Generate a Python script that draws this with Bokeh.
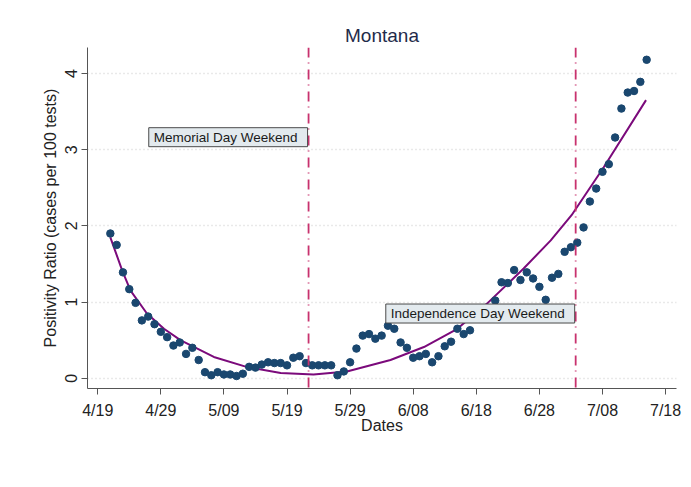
import numpy as np
import pandas as pd
from bokeh.plotting import figure
from bokeh.models import Range1d, FixedTicker, Span, Label
from bokeh.embed import file_html
from bokeh.resources import INLINE

# ---------------- data ----------------
first_date = "2020-04-21"
positivity = [
    1.90, 1.75, 1.39, 1.17, 0.99, 0.76, 0.81, 0.71, 0.61, 0.54,          # Apr 21-30
    0.43, 0.47, 0.32, 0.40, 0.24, 0.08, 0.04, 0.08, 0.05, 0.05,          # May 1-10
    0.03, 0.06, 0.15, 0.14, 0.18, 0.21, 0.20, 0.20, 0.17, 0.27,          # May 11-20
    0.29, 0.20, 0.17, 0.17, 0.17, 0.17, 0.04, 0.09, 0.21, 0.39, 0.56,    # May 21-31
    0.58, 0.52, 0.56, 0.69, 0.65, 0.47, 0.40, 0.27, 0.29, 0.32,          # Jun 1-10
    0.21, 0.29, 0.42, 0.48, 0.65, 0.58, 0.63, 0.80, 0.86, 0.92,          # Jun 11-20
    1.02, 1.26, 1.25, 1.42, 1.29, 1.39, 1.31, 1.20, 1.03, 1.32,          # Jun 21-30
    1.37, 1.66, 1.72, 1.78, 1.98, 2.32, 2.49, 2.71, 2.81, 3.16,          # Jul 1-10
    3.54, 3.75, 3.77, 3.89, 4.18,                                        # Jul 11-15
]
dates = pd.date_range(first_date, periods=len(positivity), freq="D")

# fitted trend curve (days after 4/19, value)
trend_day = [2.0, 3.9, 5.2, 7.8, 10.5, 13.1, 18.4, 23.7, 29.0, 34.2, 39.5, 46.4,
             51.7, 57.0, 61.7, 67.5, 71.8, 75.1, 80.2, 86.9]
trend_val = [1.85, 1.41, 1.15, 0.85, 0.65, 0.50, 0.28, 0.146, 0.07, 0.05, 0.09, 0.24,
             0.41, 0.65, 0.98, 1.44, 1.81, 2.14, 2.77, 3.65]

tick_dates = ["2020-04-19", "2020-04-29", "2020-05-09", "2020-05-19", "2020-05-29",
              "2020-06-08", "2020-06-18", "2020-06-28", "2020-07-08", "2020-07-18"]
tick_labels = ["4/19", "4/29", "5/09", "5/19", "5/29", "6/08", "6/18", "6/28", "7/08", "7/18"]
y_ticks = [0, 1, 2, 3, 4]

event_dates = ["2020-05-22 10:00", "2020-07-03 18:00"]
event_labels = ["Memorial Day Weekend", "Independence Day Weekend"]
event_label_y = [3.164, 0.85]

# ---------------- helpers ----------------
def ms(ts):
    return pd.Timestamp(ts).value / 1e6

day_ms = 86400000.0
origin = ms("2020-04-19")
trend_dates = pd.to_datetime([origin + d * day_ms for d in trend_day], unit="ms")

p = figure(width=683, height=479, x_axis_type="datetime",
           output_backend="svg", toolbar_location=None,
           min_border_left=87, min_border_right=7, min_border_top=47, min_border_bottom=91,
           x_range=Range1d(origin - 1.62 * day_ms, origin + 91.73 * day_ms),
           y_range=Range1d(-0.134, 4.341))
p.outline_line_color = None
p.background_fill_color = "white"

p.title.text = "Montana"
p.title.align = "center"
p.title.text_font = "Liberation Sans"
p.title.text_font_size = "19px"
p.title.text_font_style = "normal"
p.title.text_color = "#1f2b4a"
p.title.standoff = 4

p.xgrid.visible = False
p.ygrid.grid_line_color = "#d2d2d2"
p.ygrid.grid_line_dash = "1 3"
p.ygrid.grid_line_width = 1.5

tick_ms = [ms(d) for d in tick_dates]
p.xaxis.ticker = FixedTicker(ticks=tick_ms)
p.xaxis.major_label_overrides = {tv: lab for tv, lab in zip(tick_ms, tick_labels)}
p.yaxis.ticker = FixedTicker(ticks=y_ticks)
p.yaxis.major_label_orientation = "vertical"

for ax in (p.xaxis[0], p.yaxis[0]):
    ax.axis_line_color = "#555555"
    ax.major_tick_line_color = "#555555"
    ax.minor_tick_line_color = None
    ax.major_tick_in = 0
    ax.major_tick_out = 6
    ax.major_label_text_font = "Liberation Sans"
    ax.major_label_text_font_size = "16px"
    ax.major_label_text_color = "#222222"
    ax.axis_label_text_font = "Liberation Sans"
    ax.axis_label_text_font_size = "16px"
    ax.axis_label_text_font_style = "normal"
    ax.axis_label_text_color = "#222222"

p.xaxis.axis_label = "Dates"
p.xaxis.major_label_standoff = 7
p.xaxis.axis_label_standoff = -5
p.yaxis.axis_label = "Positivity Ratio (cases per 100 tests)"
p.yaxis.major_label_standoff = 4
p.yaxis.axis_label_standoff = 4

p.line(trend_dates, trend_val, line_color="#7b0a7b", line_width=2, line_join="round")

p.scatter(dates, positivity, size=7.5, fill_color="#1a476f", line_color="#1a476f")

for d in event_dates:
    p.add_layout(Span(location=ms(d), dimension="height", line_color="#c8326e",
                      line_width=1.8, line_dash="10 5 1 6"))

for d, txt, yv in zip(event_dates, event_labels, event_label_y):
    p.add_layout(Label(x=ms(d), y=yv, text=txt, text_align="right", text_baseline="middle",
                       text_font="Liberation Sans", text_font_size="13.5px",
                       text_color="#1a1a1a", x_offset=-1,
                       background_fill_color="#e3eaee", background_fill_alpha=1.0,
                       border_line_color="#4a4a4a", border_line_width=1,
                       padding=dict(left=5, right=10, top=2, bottom=2)))

open("out.html", "w").write(file_html(p, INLINE))
